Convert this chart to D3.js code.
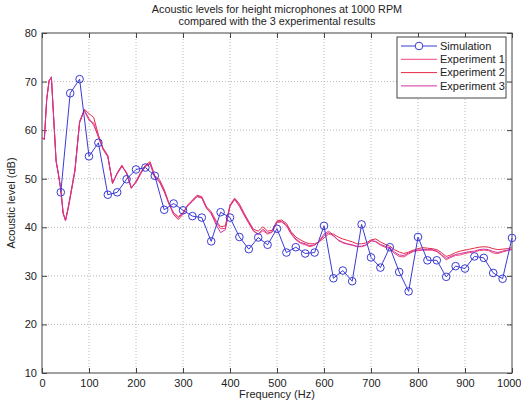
<!DOCTYPE html>
<html lang='en'>

<head>
    <meta charset='utf-8'>
    <title>Acoustic levels</title>
    <style>
        body {
            margin: 0;
            background-color: white;
            font-family: 'Liberation Sans', Arial, sans-serif;
        }

        svg {
            display: block;
        }

        .grid line {
            stroke: #b8b8b8;
            stroke-dasharray: 1, 2;
        }
    </style>
    <script src='https://d3js.org/d3.v7.min.js' charset='utf-8'></script>
</head>

<body>
    <script type="text/javascript">
        const WIDTH = 521;
        const HEIGHT = 403;

        var titleLines = ['Acoustic levels for height microphones at 1000 RPM', 'compared with the 3 experimental results'];
        var xTicks = [0, 100, 200, 300, 400, 500, 600, 700, 800, 900, 1000];
        var yTicks = [10, 20, 30, 40, 50, 60, 70, 80];
        var seriesNames = ['Simulation', 'Experiment 1', 'Experiment 2', 'Experiment 3'];

        // simulation, every 20 Hz from 40 Hz
        var simFreq = [40, 60, 80, 100, 120, 140, 160, 180, 200, 220, 240, 260, 280, 300, 320, 340, 360, 380, 400, 420,
            440, 460, 480, 500, 520, 540, 560, 580, 600, 620, 640, 660, 680, 700, 720, 740, 760, 780, 800, 820,
            840, 860, 880, 900, 920, 940, 960, 980, 1000];
        var simLevel = [47.2, 67.6, 70.5, 54.6, 57.4, 46.7, 47.2, 49.9, 51.9, 52.3, 50.6, 43.6, 44.9, 43.5, 42.3, 42.0, 37.1, 43.1, 42.0, 38.0,
            35.5, 37.9, 36.4, 39.7, 34.8, 35.9, 34.6, 34.8, 40.3, 29.5, 31.1, 28.9, 40.6, 33.8, 31.7, 35.9, 30.8, 26.8, 38.0, 33.2,
            33.2, 29.8, 32.0, 31.5, 34.0, 33.7, 30.6, 29.4, 37.8];

        // experiments: 5 Hz up to 60 Hz, then 10 Hz
        var expFreq = [0, 5, 10, 15, 20, 25, 30, 35, 40, 45, 50, 55, 60, 70, 80, 90, 100, 110, 120, 130,
            140, 150, 160, 170, 180, 190, 200, 210, 220, 230, 240, 250, 260, 270, 280, 290, 300, 310, 320, 330,
            340, 350, 360, 370, 380, 390, 400, 410, 420, 430, 440, 450, 460, 470, 480, 490, 500, 510, 520, 530,
            540, 550, 560, 570, 580, 590, 600, 610, 620, 630, 640, 650, 660, 670, 680, 690, 700, 710, 720, 730,
            740, 750, 760, 770, 780, 790, 800, 810, 820, 830, 840, 850, 860, 870, 880, 890, 900, 910, 920, 930,
            940, 950, 960, 970, 980, 990, 1000];
        var exp1 = [58.6, 58.0, 66.5, 70.0, 71.0, 62.0, 53.5, 51.0, 48.0, 43.0, 41.3, 43.5, 46.0, 51.5, 61.5, 64.0, 62.0, 61.5, 58.5, 56.0,
            54.5, 49.2, 51.0, 52.5, 51.3, 48.2, 49.2, 51.0, 52.5, 53.0, 50.2, 49.3, 47.3, 44.8, 43.0, 42.2, 43.0, 44.4, 45.3, 46.3,
            46.0, 43.9, 42.8, 41.0, 39.7, 39.8, 44.3, 45.7, 44.3, 42.5, 40.8, 39.2, 38.5, 39.3, 38.6, 39.0, 41.0, 41.1, 40.3, 38.6,
            37.4, 36.7, 36.4, 36.0, 36.3, 37.2, 38.6, 39.2, 38.4, 37.3, 36.8, 36.5, 36.3, 36.0, 36.0, 36.3, 37.3, 37.0, 36.3, 35.9,
            35.6, 34.6, 34.0, 33.9, 34.5, 35.0, 35.2, 35.3, 35.3, 35.3, 35.0, 34.2, 33.3, 33.8, 34.2, 34.3, 34.6, 34.8, 34.9, 35.2,
            35.3, 35.2, 34.7, 34.6, 34.9, 35.2, 35.4];
        var exp2 = [58.4, 58.2, 66.2, 70.3, 70.8, 62.4, 53.8, 50.8, 47.6, 42.8, 41.5, 43.8, 46.4, 51.8, 61.8, 64.3, 63.4, 62.6, 59.0, 56.3,
            54.8, 49.0, 51.2, 52.8, 51.0, 48.0, 49.5, 51.3, 52.8, 53.5, 50.6, 49.8, 47.8, 45.0, 42.6, 41.6, 42.7, 44.6, 45.6, 46.6,
            46.3, 44.2, 43.2, 41.4, 40.1, 40.3, 44.6, 46.0, 44.8, 42.9, 41.2, 39.6, 39.2, 40.1, 39.2, 39.4, 41.3, 41.5, 40.8, 39.1,
            38.0, 37.4, 36.9, 36.6, 36.6, 37.0, 37.8, 38.6, 38.6, 38.0, 37.6, 37.3, 37.0, 36.6, 36.6, 36.8, 37.4, 37.6, 37.0, 36.5,
            36.1, 35.4, 34.9, 34.6, 34.9, 35.3, 35.6, 35.8, 35.7, 35.6, 35.4, 34.8, 34.0, 34.3, 34.8, 35.1, 35.3, 35.5, 35.7, 35.9,
            36.0, 35.9, 35.6, 35.4, 35.5, 35.6, 35.8];
        var exp3 = [58.5, 58.1, 66.3, 70.1, 70.9, 62.2, 53.6, 50.9, 47.8, 42.9, 41.4, 43.6, 46.2, 51.6, 61.6, 64.1, 62.4, 61.0, 58.7, 56.1,
            54.6, 49.1, 51.1, 52.6, 51.2, 48.1, 49.3, 51.1, 52.6, 53.2, 50.4, 49.5, 47.5, 44.9, 42.9, 42.0, 42.9, 44.5, 45.4, 46.4,
            46.1, 44.0, 42.9, 40.6, 38.9, 39.5, 44.4, 45.8, 44.5, 42.6, 40.9, 39.3, 38.6, 39.6, 38.8, 39.1, 41.1, 41.2, 40.5, 38.8,
            37.6, 36.9, 36.6, 36.2, 36.4, 37.1, 38.3, 38.9, 38.2, 37.4, 36.9, 36.6, 36.4, 36.1, 36.1, 36.4, 37.2, 37.1, 36.5, 36.1,
            35.8, 34.9, 34.3, 34.2, 34.7, 35.1, 35.3, 35.4, 35.4, 35.4, 35.1, 34.4, 33.6, 34.0, 34.4, 34.6, 34.8, 35.0, 35.1, 35.4,
            35.5, 35.4, 35.0, 34.8, 35.1, 35.3, 35.5];

        var colors = ['#3a3ad6', '#f2457e', '#e62a46', '#d0349a'];

        var margin = { left: 42, right: 9, top: 33, bottom: 30 };
        var plotW = WIDTH - margin.left - margin.right;
        var plotH = HEIGHT - margin.top - margin.bottom;

        var x = d3.scaleLinear().domain([0, 1000]).range([0, plotW]);
        var y = d3.scaleLinear().domain([10, 80]).range([plotH, 0]);

        var svg = d3.select('body')
            .append('svg')
            .attr('width', WIDTH)
            .attr('height', HEIGHT);

        svg.selectAll('.title')
            .data(titleLines)
            .enter()
            .append('text')
            .attr('class', 'title')
            .attr('x', margin.left + plotW / 2)
            .attr('y', function (d, i) {
                return 13 + i * 12;
            })
            .attr('text-anchor', 'middle')
            .attr('font-size', '10.8px')
            .attr('fill', '#222')
            .text(function (d) {
                return d;
            });

        var g = svg.append('g')
            .attr('transform', 'translate(' + margin.left + ',' + margin.top + ')');

        // grid
        g.append('g')
            .attr('class', 'grid')
            .selectAll('line.v')
            .data(xTicks.slice(1, -1))
            .enter()
            .append('line')
            .attr('x1', function (d) { return x(d); })
            .attr('x2', function (d) { return x(d); })
            .attr('y1', 0)
            .attr('y2', plotH);
        g.append('g')
            .attr('class', 'grid')
            .selectAll('line.h')
            .data(yTicks.slice(1, -1))
            .enter()
            .append('line')
            .attr('x1', 0)
            .attr('x2', plotW)
            .attr('y1', function (d) { return y(d); })
            .attr('y2', function (d) { return y(d); });

        // axes, ticks inward on all four sides
        var axisStyle = function (sel) {
            sel.select('.domain').remove();
            sel.selectAll('.tick line').attr('stroke', '#444');
            sel.selectAll('.tick text')
                .attr('font-size', '11px')
                .attr('fill', '#222')
                .attr('font-family', "'Liberation Sans', Arial, sans-serif");
        };

        var xAxisG = g.append('g')
            .attr('transform', 'translate(0,' + plotH + ')')
            .call(d3.axisBottom(x).tickValues(xTicks).tickFormat(d3.format('d')).tickSizeInner(-5).tickSizeOuter(0).tickPadding(6))
            .call(axisStyle);
        // keep "1000" inside the window
        xAxisG.selectAll('.tick text')
            .filter(function (d) { return d === 1000; })
            .attr('text-anchor', 'end')
            .attr('x', 9);

        g.append('g')
            .call(d3.axisTop(x).tickValues(xTicks).tickSizeInner(-5).tickSizeOuter(0).tickFormat(''))
            .call(axisStyle);
        g.append('g')
            .call(d3.axisLeft(y).tickValues(yTicks).tickSizeInner(-5).tickSizeOuter(0).tickPadding(5))
            .call(axisStyle);
        g.append('g')
            .attr('transform', 'translate(' + plotW + ',0)')
            .call(d3.axisRight(y).tickValues(yTicks).tickSizeInner(-5).tickSizeOuter(0).tickFormat(''))
            .call(axisStyle);

        g.append('rect')
            .attr('width', plotW)
            .attr('height', plotH)
            .attr('fill', 'none')
            .attr('stroke', '#444')
            .attr('stroke-width', 1);

        // experiment lines
        var expLine = d3.line()
            .x(function (d, i) { return x(expFreq[i]); })
            .y(function (d) { return y(d); });

        var expSeries = [exp1, exp2, exp3];
        g.selectAll('.exp')
            .data(expSeries)
            .enter()
            .append('path')
            .attr('class', 'exp')
            .attr('d', expLine)
            .attr('fill', 'none')
            .attr('stroke', function (d, i) { return colors[i + 1]; })
            .attr('stroke-width', 1);

        // simulation
        var simLine = d3.line()
            .x(function (d, i) { return x(simFreq[i]); })
            .y(function (d) { return y(d); });

        g.append('path')
            .datum(simLevel)
            .attr('d', simLine)
            .attr('fill', 'none')
            .attr('stroke', colors[0])
            .attr('stroke-width', 1);

        g.selectAll('.sim')
            .data(simLevel)
            .enter()
            .append('circle')
            .attr('class', 'sim')
            .attr('cx', function (d, i) { return x(simFreq[i]); })
            .attr('cy', function (d) { return y(d); })
            .attr('r', 3.8)
            .attr('fill', 'none')
            .attr('stroke', colors[0])
            .attr('stroke-width', 1);

        // axis labels
        svg.append('text')
            .attr('x', margin.left + plotW / 2)
            .attr('y', 398)
            .attr('text-anchor', 'middle')
            .attr('font-size', '11px')
            .attr('fill', '#222')
            .text('Frequency (Hz)');

        svg.append('text')
            .attr('transform', 'translate(15,' + (margin.top + plotH / 2) + ') rotate(-90)')
            .attr('text-anchor', 'middle')
            .attr('font-size', '11px')
            .attr('fill', '#222')
            .text('Acoustic level (dB)');

        // legend
        var legend = svg.append('g')
            .attr('transform', 'translate(397,37)');

        legend.append('rect')
            .attr('width', 109)
            .attr('height', 61)
            .attr('fill', 'white')
            .attr('stroke', '#444');

        var items = legend.selectAll('.item')
            .data(seriesNames)
            .enter()
            .append('g')
            .attr('class', 'item')
            .attr('transform', function (d, i) {
                return 'translate(0,' + (9 + i * 13.3) + ')';
            });

        items.append('line')
            .attr('x1', 4)
            .attr('x2', 40)
            .attr('stroke', function (d, i) { return colors[i]; })
            .attr('stroke-width', 1);

        items.filter(function (d, i) { return i === 0; })
            .append('circle')
            .attr('cx', 22)
            .attr('r', 3.8)
            .attr('fill', 'white')
            .attr('stroke', colors[0]);

        items.append('text')
            .attr('x', 43)
            .attr('dy', '0.35em')
            .attr('font-size', '11px')
            .attr('fill', '#222')
            .text(function (d) { return d; });
    </script>
</body>

</html>
